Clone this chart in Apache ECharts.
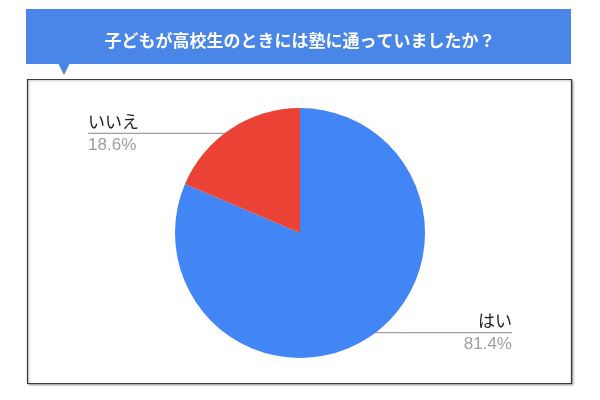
<!DOCTYPE html>
<html>
<head>
<meta charset="utf-8">
<script src="https://cdn.jsdelivr.net/npm/echarts@6/dist/echarts.min.js"></script>
<style>html,body{margin:0;padding:0;background:#fff;}#c{width:600px;height:400px;}</style>
</head>
<body>
<div id="c"></div>
<script>
const titleText = '子どもが高校生のときには塾に通っていましたか？';
const categories = ['はい', 'いいえ'];
const values = [81.4, 18.6];
const colors = ['#4285f4', '#ea4335'];

const pieCenter = [300, 233];
const chart = echarts.init(document.getElementById('c'), null, {renderer: 'canvas'});
const data = categories.map((n, i) => ({name: n, value: values[i], itemStyle: {color: colors[i]}}));

chart.setOption({
  animation: false,
  backgroundColor: '#ffffff',
  title: {
    text: titleText,
    left: 'center',
    top: 27,
    textStyle: {color: '#ffffff', fontSize: 17, fontWeight: 'bold', fontFamily: '"Noto Sans CJK JP", sans-serif'}
  },
  graphic: [
    {type: 'rect', shape: {x: 26, y: 9, width: 545, height: 55}, style: {fill: '#4a86e8'}, z: -1},
    {type: 'polygon', shape: {points: [[58, 63], [70, 63], [64, 75]]}, style: {fill: '#4a86e8'}, z: -1},
    {type: 'rect', shape: {x: 27.5, y: 79.5, width: 544, height: 304}, style: {fill: '#ffffff', stroke: '#3a3a3a', lineWidth: 1.2, shadowBlur: 2, shadowColor: 'rgba(0,0,0,0.3)', shadowOffsetX: 1, shadowOffsetY: 1}, z: -2}
  ],
  series: [{
    type: 'pie',
    center: pieCenter,
    radius: 125,
    startAngle: 90,
    clockwise: true,
    silent: true,
    data: data,
    label: {
      show: true,
      position: 'outside',
      formatter: function (p) { return '{n|' + p.name + '}\n{p|' + p.value + '%}'; },
      rich: {
        n: {color: '#222222', fontSize: 17, lineHeight: 22, fontFamily: '"Liberation Sans", "Noto Sans CJK JP", sans-serif'},
        p: {color: '#9e9e9e', fontSize: 17, lineHeight: 22, fontFamily: '"Liberation Sans", "Noto Sans CJK JP", sans-serif'}
      }
    },
    labelLine: {show: true, length: 0, length2: 143, smooth: false, lineStyle: {color: '#a0a0a0', width: 1.2}},
    labelLayout: function (p) {
      const pts = p.labelLinePoints;
      const end = pts[pts.length - 1];
      const k = 0.955;
      const sx = pieCenter[0] + (pts[0][0] - pieCenter[0]) * k;
      const sy = pieCenter[1] + (pts[0][1] - pieCenter[1]) * k;
      const left = end[0] < pieCenter[0];
      return {
        x: end[0], y: sy + 1,
        align: left ? 'left' : 'right', verticalAlign: 'middle',
        labelLinePoints: [[sx, sy], [sx, sy], [end[0], sy]]
      };
    },
    emphasis: {disabled: true}
  }]
});
</script>
</body>
</html>
